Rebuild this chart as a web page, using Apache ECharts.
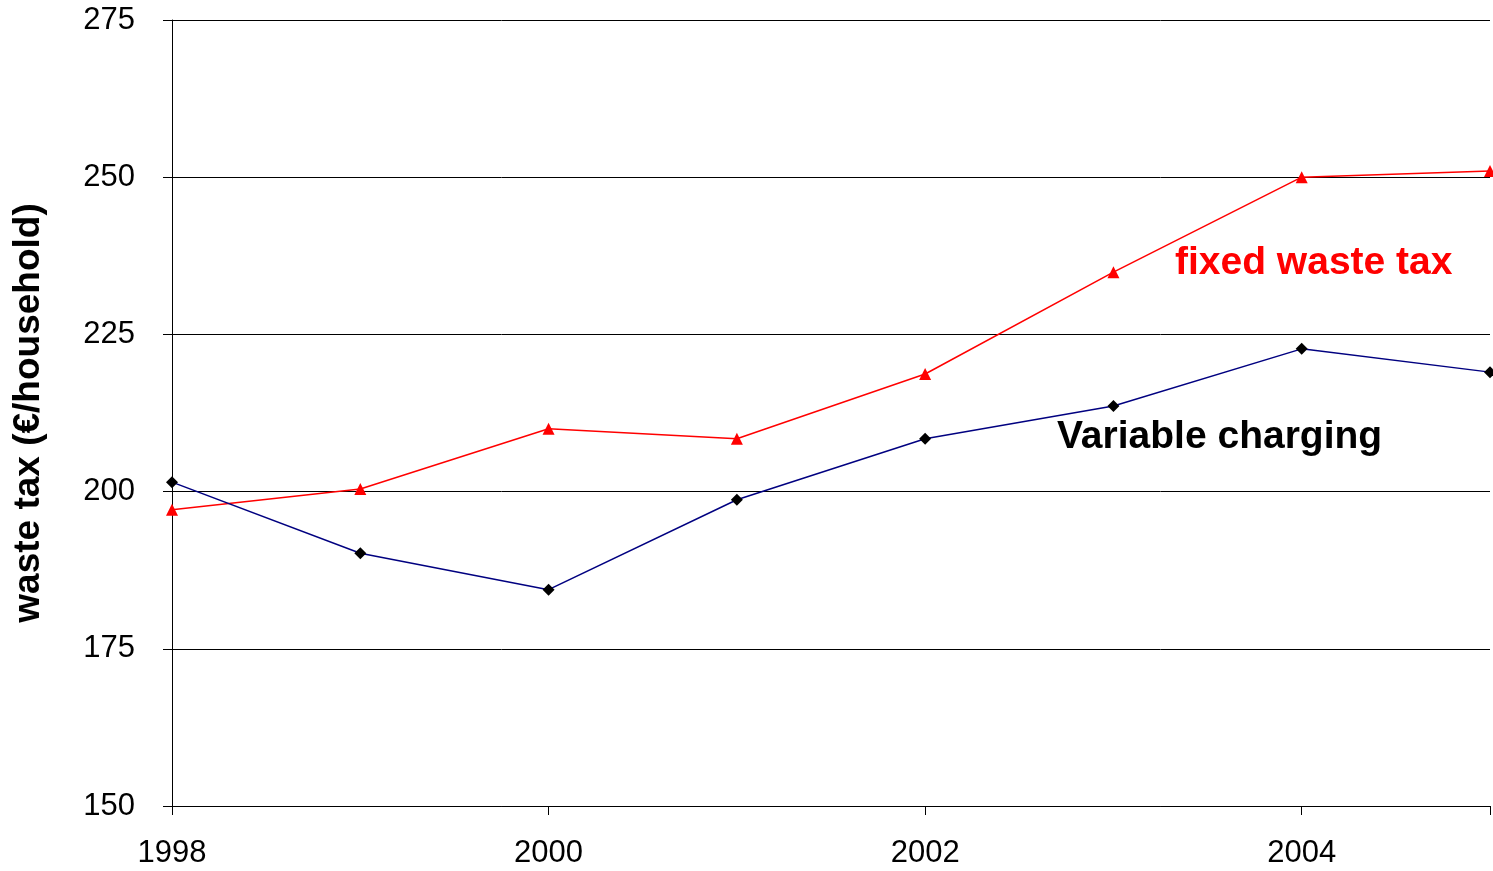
<!DOCTYPE html>
<html><head><meta charset="utf-8">
<script src="https://cdn.jsdelivr.net/npm/echarts@6/dist/echarts.min.js"></script>
<style>html,body{margin:0;padding:0;background:#fff;overflow:hidden}#c{width:1493px;height:871px}</style>
</head><body><div id="c"></div>
<script>
const years = [1998, 1999, 2000, 2001, 2002, 2003, 2004, 2005];
const fixedTax = [197.1, 200.4, 210.0, 208.4, 218.7, 234.9, 250.0, 251.0];
const variableCharging = [201.5, 190.2, 184.4, 198.7, 208.4, 213.6, 222.7, 219.0];
const fixedLabel = 'fixed waste tax';
const variableLabel = 'Variable charging';
const yAxisTitle = 'waste tax (€/household)';

const font = '"Liberation Sans", Arial, sans-serif';
const chart = echarts.init(document.getElementById('c'), null, {renderer: 'canvas', width: 1493, height: 871});
chart.setOption({
  animation: false,
  backgroundColor: '#fff',
  grid: {left: 172, width: 1322, top: 20, bottom: 65, containLabel: false},
  xAxis: {
    type: 'value', min: 1998, max: 2005, interval: 2,
    axisLine: {show: true, lineStyle: {color: '#000', width: 1}},
    axisTick: {show: true, length: 9, lineStyle: {color: '#000'}},
    axisLabel: {color: '#000', fontFamily: font, fontSize: 31, margin: 32,
      formatter: v => (v % 2 === 0 ? String(v) : '')},
    splitLine: {show: false}
  },
  yAxis: {
    type: 'value', min: 150, max: 275, interval: 25,
    name: yAxisTitle, nameLocation: 'middle', nameGap: 125,
    nameTextStyle: {color: '#000', fontFamily: font, fontSize: 37, fontWeight: 'bold'},
    axisLine: {show: true, lineStyle: {color: '#000', width: 1}},
    axisTick: {show: true, length: 9, inside: false, lineStyle: {color: '#000'}},
    axisLabel: {color: '#000', fontFamily: font, fontSize: 31, margin: 37},
    splitLine: {show: true, lineStyle: {color: '#000', width: 1}}
  },
  series: [
    {
      name: fixedLabel, type: 'line', clip: false,
      data: years.map((y, i) => [y, fixedTax[i]]),
      symbol: 'triangle', symbolSize: 12,
      lineStyle: {color: '#ff0000', width: 1.5},
      itemStyle: {color: '#ff0000'}
    },
    {
      name: variableLabel, type: 'line', clip: false,
      data: years.map((y, i) => [y, variableCharging[i]]),
      symbol: 'diamond', symbolSize: 12,
      lineStyle: {color: '#000080', width: 1.5},
      itemStyle: {color: '#000'}
    }
  ],
  graphic: [
    {type: 'text', left: 1175, top: 244,
      style: {text: fixedLabel, fill: '#ff0000', font: 'bold 39px ' + font}},
    {type: 'text', left: 1057, top: 418,
      style: {text: variableLabel, fill: '#000', font: 'bold 39px ' + font}}
  ]
});
</script></body></html>
